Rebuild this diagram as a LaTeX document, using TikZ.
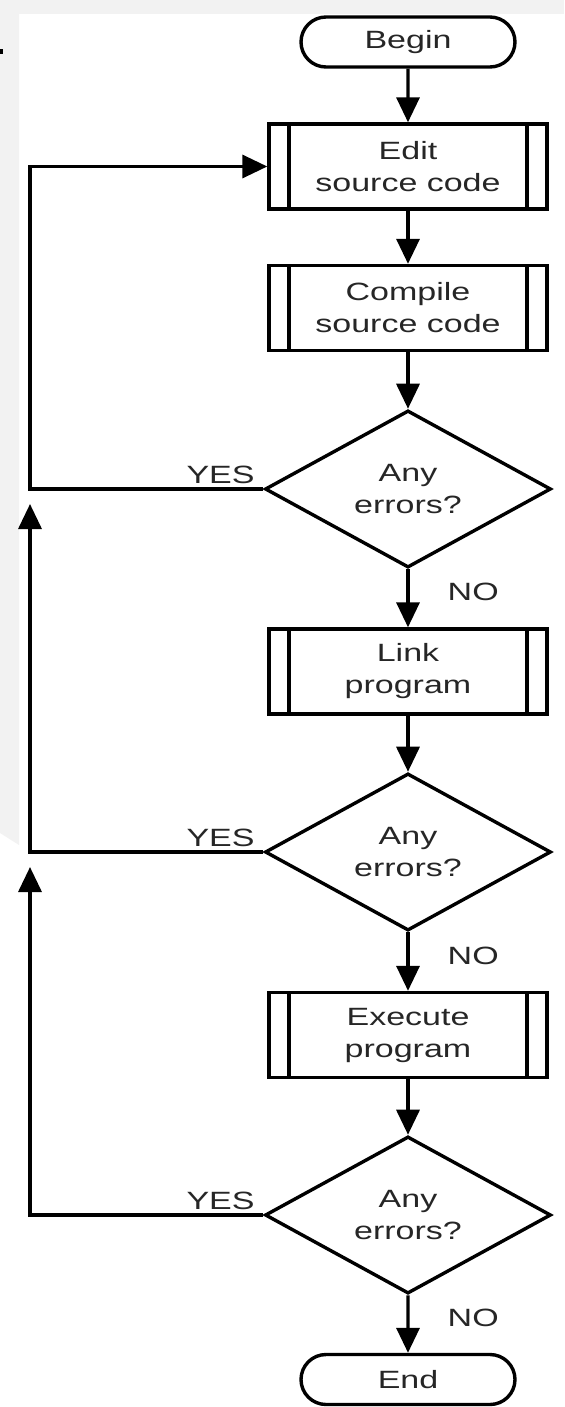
\documentclass[tikz,border=0pt]{standalone}
\usepackage{fontspec}
\setmainfont{Liberation Sans}[FakeStretch=1.36]
\usetikzlibrary{shapes.geometric, shapes.misc, arrows.meta, calc}

\begin{document}
\begin{tikzpicture}[x=0.5pt, y=-0.5pt,
    font=\fontsize{12.5}{16}\selectfont,
    every node/.style={text=black!85},
    terminal/.style={draw, rounded rectangle, line width=1.7pt, minimum width=107pt, minimum height=25pt, inner sep=0pt},
    process/.style={draw, rectangle, line width=1.7pt, minimum width=139pt, minimum height=42.5pt, align=center, inner sep=0pt,
        path picture={
            \draw[line width=1.7pt] ([xshift=10pt]path picture bounding box.north west) -- ([xshift=10pt]path picture bounding box.south west);
            \draw[line width=1.7pt] ([xshift=-10pt]path picture bounding box.north east) -- ([xshift=-10pt]path picture bounding box.south east);
        }},
    decision/.style={draw, diamond, line width=1.7pt, minimum width=143pt, minimum height=76pt, align=center, inner sep=0pt},
    arr/.style={line width=1.7pt, -{Triangle[width=11.5pt, length=12.5pt]}},
    yeslabel/.style={anchor=south east, inner xsep=3.5pt, inner ysep=2pt},
    nolabel/.style={anchor=west, inner sep=0pt, xshift=19pt, yshift=3pt}]
        \useasboundingbox (0,0) rectangle (564,1407);
        % sfondo
            \fill[black!5] (0,0) rectangle (564,14);
            \fill[black!5] (0,14) -- (19,14) -- (19,845) -- (0,833) -- cycle;
            \fill[black] (0,49) rectangle (3,54);
        % blocchi
            \node[terminal] (begin) at (408,42) {Begin};
            \node[process] (edit) at (408,166.5) {Edit\\source code};
            \node[process] (compile) at (408,308) {Compile\\source code};
            \node[decision] (err1) at (408,489) {Any\\errors?};
            \node[process] (link) at (408,671.5) {Link\\program};
            \node[decision] (err2) at (408,852) {Any\\errors?};
            \node[process] (exec) at (408,1035) {Execute\\program};
            \node[decision] (err3) at (408,1215) {Any\\errors?};
            \node[terminal] (end) at (408,1379.5) {End};
            \coordinate (rail) at (30,0);
        % frecce
            \draw[arr] (begin) -- (edit);
            \draw[arr] (edit) -- (compile);
            \draw[arr] (compile) -- (err1);
            \draw[arr] (err1) -- node[nolabel]{NO} (link);
            \draw[arr] (link) -- (err2);
            \draw[arr] (err2) -- node[nolabel]{NO} (exec);
            \draw[arr] (exec) -- (err3);
            \draw[arr] (err3) -- node[nolabel]{NO} (end);
        % ritorni
            \draw[arr] (err1.west) node[yeslabel]{YES} -- (err1.west -| rail) |- (edit.west);
            \draw[arr] (err2.west) node[yeslabel]{YES} -- (err2.west -| rail) -- ($(err1.west -| rail)+(0,15)$);
            \draw[arr] (err3.west) node[yeslabel]{YES} -- (err3.west -| rail) -- ($(err2.west -| rail)+(0,15)$);
        \end{tikzpicture}
\end{document}
